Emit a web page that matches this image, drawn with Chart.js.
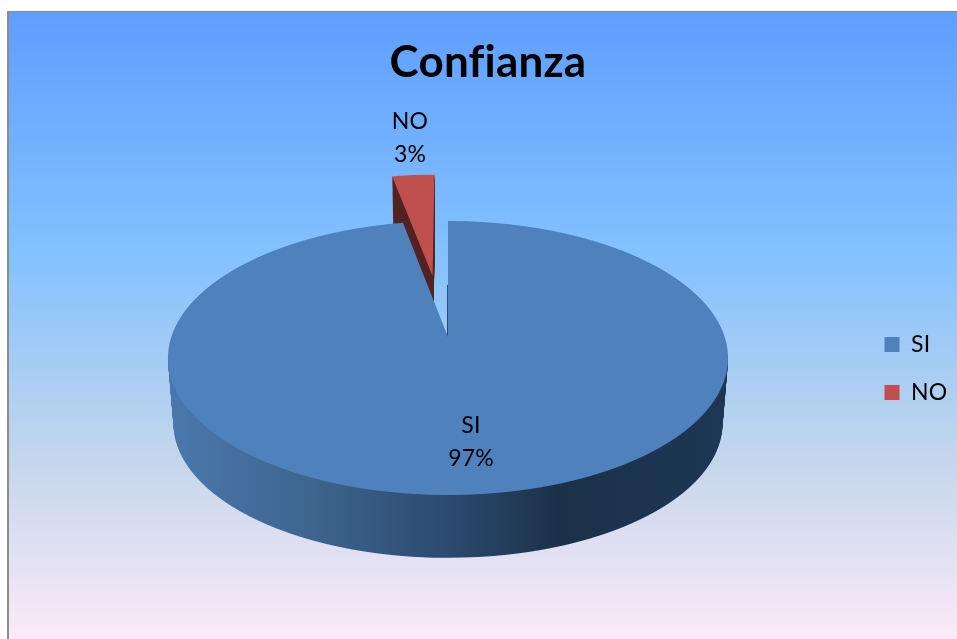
<!DOCTYPE html>
<html>
<head>
<meta charset="utf-8">
<style>html,body{margin:0;padding:0;background:#fff}canvas{display:block}</style>
<script src="https://cdn.jsdelivr.net/npm/chart.js@4"></script>
</head>
<body>
<canvas id="c" width="957" height="639"></canvas>
<script>
const categories = ['SI', 'NO'];
const values = [97, 3];
const sliceColors = ['#4f81bd', '#c0504d'];
const chartTitle = 'Confianza';
const fontName = 'Lato, Carlito, sans-serif';

// Perspective of the tilted pie plane
const CX = 448, APEX_Y = 337, TILT = 0.1533, YSCALE = 133.8, XSCALE = 276.7;
const DEPTH = 66, SHRINK = 0.02;
const EXPLODE = [[0, 0], [-0.06, 0.49]];
const labelSpots = [[471, 426, 459], [410, 122, 155]];

function drawProjected(ctx, el, shift, d, yMin, yMax) {
  const q = 1 - SHRINK * d / DEPTH;
  const R = el.outerRadius;
  for (let y = yMin; y < yMax; y++) {
    const yc = y + 0.5;
    const h = (APEX_Y + d - yc) / q;
    const den = YSCALE - TILT * h;
    if (den <= 0) continue;
    const v = h / den;
    if (v < -1.1 || v > 1.7) continue;
    const w = 1 + TILT * v;
    const sx = (XSCALE * q / w) / R;
    const sy = q * (YSCALE / (w * w)) / R;
    ctx.save();
    ctx.beginPath();
    ctx.rect(0, y, ctx.canvas.width, 1);
    ctx.clip();
    ctx.setTransform(sx, 0, 0, sy,
      CX - el.x * sx + shift[0] * R * sx,
      yc - sy * (el.y - R * v) - shift[1] * R * sy);
    el.draw(ctx);
    ctx.restore();
  }
}

function tinted(chart, paint, fill) {
  const off = document.createElement('canvas');
  off.width = chart.width; off.height = chart.height;
  const oc = off.getContext('2d');
  paint(oc);
  oc.globalCompositeOperation = 'source-in';
  oc.fillStyle = fill(oc);
  oc.fillRect(0, 0, off.width, off.height);
  chart.ctx.drawImage(off, 0, 0);
}

const pie3d = {
  id: 'pie3d',
  beforeDraw(chart) {
    const ctx = chart.ctx, W = chart.width, H = chart.height;
    ctx.save();
    ctx.fillStyle = '#ffffff';
    ctx.fillRect(0, 0, W, H);
    const g = ctx.createLinearGradient(0, 12, 0, 650);
    g.addColorStop(0, '#5e9eff');
    g.addColorStop(0.39, '#85c2ff');
    g.addColorStop(0.7, '#c4d6eb');
    g.addColorStop(1, '#ffebfa');
    ctx.fillStyle = '#8c8c8c';
    ctx.fillRect(7, 11, W - 7, H - 11);
    ctx.fillStyle = g;
    ctx.fillRect(9, 12, W - 9, H - 12);
    ctx.restore();
    if ('letterSpacing' in ctx) ctx.letterSpacing = '0.2px';
  },
  beforeDatasetsDraw(chart) {
    const ctx = chart.ctx;
    const [blue, red] = chart.getDatasetMeta(0).data;

    // cut face of the exploded slice
    tinted(chart, oc => {
      for (let d = DEPTH; d >= 1; d--) drawProjected(oc, red, EXPLODE[1], d, 170, 315);
    }, () => '#512220');
    drawProjected(ctx, red, EXPLODE[1], 0, 165, 315);

    // outer wall of the main slice
    tinted(chart, oc => {
      for (let d = DEPTH; d >= 1; d--) drawProjected(oc, blue, EXPLODE[0], d, 355, 565);
    }, oc => {
      const wall = oc.createLinearGradient(170, 0, 728, 0);
      wall.addColorStop(0, '#4a78ae');
      wall.addColorStop(0.25, '#3e658f');
      wall.addColorStop(0.5, '#2b4a6f');
      wall.addColorStop(0.7, '#1b3149');
      wall.addColorStop(1, '#1d3755');
      return wall;
    });

    // thin dark edge of the cut on the right side of the gap
    tinted(chart, oc => {
      drawProjected(oc, blue, [-1 / XSCALE, 0], 0, 285, 338);
      oc.clearRect(0, 0, CX - 8, oc.canvas.height);
      oc.clearRect(CX + 8, 0, oc.canvas.width, oc.canvas.height);
    }, () => '#2c4a6e');

    drawProjected(ctx, blue, EXPLODE[0], 0, 215, 500);

    // data labels
    const total = values.reduce((a, b) => a + b, 0);
    ctx.save();
    ctx.fillStyle = '#000';
    ctx.font = '23px ' + fontName;
    ctx.textAlign = 'center';
    ctx.textBaseline = 'middle';
    categories.forEach((name, i) => {
      const [x, y1, y2] = labelSpots[i];
      ctx.fillText(name, x, y1);
      ctx.fillText(Math.round(values[i] / total * 100) + '%', x, y2);
    });
    ctx.restore();
    return false;
  }
};

new Chart(document.getElementById('c'), {
  type: 'pie',
  data: {
    labels: categories,
    datasets: [{ data: values, backgroundColor: sliceColors, borderWidth: 0, hoverOffset: 0 }]
  },
  options: {
    responsive: false,
    animation: false,
    devicePixelRatio: 1,
    radius: 200,
    layout: { padding: { left: 19, right: 0, top: 36, bottom: -62 } },
    plugins: {
      tooltip: { enabled: false },
      title: {
        display: true,
        text: chartTitle,
        color: '#000',
        font: { family: fontName, size: 44, weight: 'bold' },
        padding: { top: 0, bottom: 10 }
      },
      legend: {
        position: 'right',
        labels: {
          color: '#000',
          font: { family: fontName, size: 23 },
          boxWidth: 15, boxHeight: 15,
          padding: 25
        }
      }
    }
  },
  plugins: [pie3d]
});
</script>
</body>
</html>
